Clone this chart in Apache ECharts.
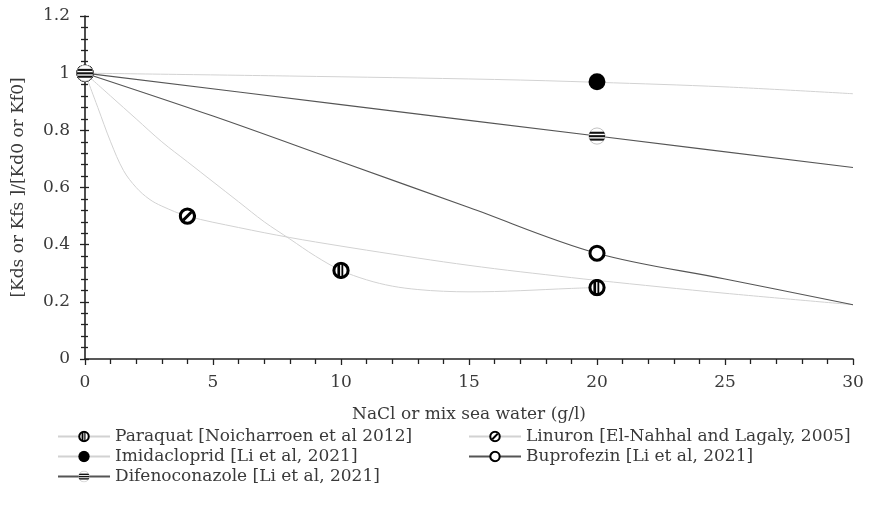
<!DOCTYPE html>
<html>
<head>
<meta charset="utf-8">
<script src="https://cdn.jsdelivr.net/npm/echarts@6/dist/echarts.min.js"></script>
<style>html,body{margin:0;padding:0;background:#fff}#c{width:870px;height:516px}</style>
</head>
<body>
<div id="c"></div>
<script>
// ---- data ----
const seriesNames = [
  'Paraquat [Noicharroen et al 2012]',
  'Linuron [El-Nahhal and Lagaly, 2005]',
  'Imidacloprid [Li et al, 2021]',
  'Buprofezin [Li et al, 2021]',
  'Difenoconazole [Li et al, 2021]'
];
// measured points (markers)
const paraquatPts = [[0, 1], [10, 0.31], [20, 0.25]];
const linuronPts = [[0, 1], [4, 0.5]];
const imidaclopridPts = [[0, 1], [20, 0.97]];
const buprofezinPts = [[0, 1], [20, 0.37]];
const difenoconazolePts = [[0, 1], [20, 0.78]];
// fitted trend curves
const paraquatCurve = [[0,1],[1,0.92],[2,0.84],[3,0.76],[4,0.69],[5,0.62],[6,0.55],[7,0.48],[8,0.42],[9,0.36],[10,0.31],[11,0.277],[12,0.255],[13,0.243],[14,0.237],[15,0.235],[16,0.236],[17,0.239],[18,0.243],[19,0.247],[20,0.25]];
const linuronCurve = [[0,1],[0.5,0.88],[1,0.76],[1.5,0.66],[2,0.6],[2.5,0.56],[3,0.535],[4,0.5],[6,0.46],[8,0.425],[10,0.395],[12,0.367],[14,0.34],[16,0.316],[18,0.295],[20,0.275],[25,0.23],[30,0.19]];
const imidaclopridCurve = [[0,1],[8,0.99],[16,0.978],[20,0.968],[25,0.952],[30,0.928]];
const buprofezinCurve = [[0,1],[5,0.85],[10,0.69],[15,0.53],[20,0.37],[25,0.28],[30,0.19]];
const difenoconazoleCurve = [[0,1],[10,0.89],[20,0.78],[30,0.67]];
const xTicks = { min: 0, max: 30, interval: 5 };
const yTicks = { min: 0, max: 1.2, interval: 0.2 };

// ---- marker images ----
function svgSym(inner) {
  const svg = '<svg xmlns="http://www.w3.org/2000/svg" width="40" height="40" viewBox="0 0 20 20">' + inner + '</svg>';
  return 'image://data:image/svg+xml;charset=utf-8,' + encodeURIComponent(svg);
}
const symParaquat = svgSym('<defs><clipPath id="k"><circle cx="10" cy="10" r="8"/></clipPath></defs><circle cx="10" cy="10" r="8" fill="#fff"/><g clip-path="url(#k)"><rect x="6" y="2" width="3" height="16" fill="#000"/><rect x="10.5" y="2" width="2" height="16" fill="#000"/></g><circle cx="10" cy="10" r="7.9" fill="none" stroke="#000" stroke-width="3.4"/>');
const symLinuron = svgSym('<circle cx="10" cy="10" r="8" fill="#fff"/><line x1="5.5" y1="14.5" x2="14.5" y2="5.5" stroke="#000" stroke-width="3.2"/><circle cx="10" cy="10" r="7.9" fill="none" stroke="#000" stroke-width="3.4"/>');
const symImida = svgSym('<circle cx="10" cy="10" r="9.4" fill="#000"/>');
const symBupro = svgSym('<circle cx="10" cy="10" r="7.8" fill="#fff" stroke="#000" stroke-width="3.4"/>');
const symDifeno = svgSym('<defs><clipPath id="d"><circle cx="10" cy="10" r="9"/></clipPath></defs><circle cx="10" cy="10" r="9" fill="#fff" stroke="#bbb" stroke-width="1"/><g clip-path="url(#d)"><rect x="0" y="5.2" width="20" height="2.3" fill="#111"/><rect x="0" y="9" width="20" height="2.3" fill="#111"/><rect x="0" y="12.8" width="20" height="2.3" fill="#111"/></g>');

const LIGHT = '#d2d2d2';
const DARK = '#555555';
const defs = [
  { name: seriesNames[0], curve: paraquatCurve, pts: paraquatPts, sym: symParaquat, color: LIGHT, w: 1 },
  { name: seriesNames[1], curve: linuronCurve, pts: linuronPts, sym: symLinuron, color: LIGHT, w: 1 },
  { name: seriesNames[2], curve: imidaclopridCurve, pts: imidaclopridPts, sym: symImida, color: LIGHT, w: 1 },
  { name: seriesNames[3], curve: buprofezinCurve, pts: buprofezinPts, sym: symBupro, color: DARK, w: 1.1 },
  { name: seriesNames[4], curve: difenoconazoleCurve, pts: difenoconazolePts, sym: symDifeno, color: DARK, w: 1.1 }
];

const series = [];
defs.forEach(d => {
  series.push({
    name: d.name, type: 'line', data: d.curve, smooth: 0.35, showSymbol: false,
    symbol: d.sym, lineStyle: { color: d.color, width: d.w }, itemStyle: { color: d.color },
    z: 2, silent: true, animation: false
  });
});
defs.forEach(d => {
  series.push({
    name: d.name, type: 'scatter', data: d.pts, symbol: d.sym, symbolSize: 18,
    itemStyle: { opacity: 1 }, z: 5, animation: false
  });
});

const FONT = '"DejaVu Serif", "Liberation Serif", serif';
const TXT = '#3a3a3a';
const FS = 17;
const tickStyle = { color: '#222', width: 1.3 };
const chart = echarts.init(document.getElementById('c'));
chart.setOption({
  animation: false,
  grid: { left: 85, right: 17, top: 16, bottom: 157 },
  xAxis: {
    type: 'value', min: xTicks.min, max: xTicks.max, interval: xTicks.interval,
    name: 'NaCl or mix sea water (g/l)', nameLocation: 'middle', nameGap: 47,
    nameTextStyle: { fontFamily: FONT, fontSize: FS, color: TXT },
    axisLine: { show: true, lineStyle: { color: '#222', width: 1.6 } },
    axisTick: { show: true, length: 6, lineStyle: tickStyle },
    minorTick: { show: true, splitNumber: 5, length: 5, lineStyle: tickStyle },
    axisLabel: { fontFamily: FONT, fontSize: FS, color: TXT, margin: 15 },
    splitLine: { show: false }
  },
  yAxis: [
    {
      type: 'value', min: yTicks.min, max: yTicks.max, interval: yTicks.interval,
      name: '[Kds or Kfs ]/[Kd0 or Kf0]', nameLocation: 'middle', nameGap: 58,
      nameTextStyle: { fontFamily: FONT, fontSize: FS, color: TXT },
      axisLine: { show: true, lineStyle: { color: '#222', width: 1.6 } },
      axisTick: { show: true, length: 5, lineStyle: tickStyle },
      minorTick: { show: true, splitNumber: 5, length: 4, lineStyle: tickStyle },
      axisLabel: { fontFamily: FONT, fontSize: FS, color: TXT, margin: 15 },
      splitLine: { show: false }
    },
    {
      type: 'value', position: 'left', min: yTicks.min, max: yTicks.max, interval: yTicks.interval,
      axisLine: { show: false },
      axisTick: { show: true, inside: true, length: 4, lineStyle: tickStyle },
      minorTick: { show: true, splitNumber: 5, length: 3, lineStyle: tickStyle },
      axisLabel: { show: false },
      splitLine: { show: false }
    }
  ],
  legend: [
    {
      orient: 'vertical', left: 57, top: 428, padding: 0, itemWidth: 52, itemHeight: 15, itemGap: 3,
      data: [seriesNames[0], seriesNames[2], seriesNames[4]],
      textStyle: { fontFamily: FONT, fontSize: FS, color: TXT, lineHeight: 17 }
    },
    {
      orient: 'vertical', left: 468, top: 428, padding: 0, itemWidth: 52, itemHeight: 15, itemGap: 3,
      data: [seriesNames[1], seriesNames[3]],
      textStyle: { fontFamily: FONT, fontSize: FS, color: TXT, lineHeight: 17 }
    }
  ],
  series: series
});
</script>
</body>
</html>
